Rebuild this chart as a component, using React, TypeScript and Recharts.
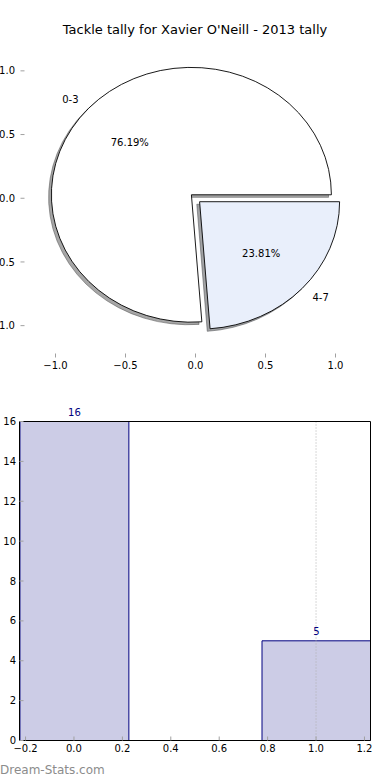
import React from 'react';
import {
  PieChart, Pie, ScatterChart, Scatter, XAxis, YAxis, ComposedChart, Bar, LabelList, ReferenceLine,
} from 'recharts';

// ---------- data ----------
const pieLabels = ['0-3', '4-7'];
const pieValues = [16, 5];
const pieColors = ['#ffffff', '#e9effb'];
const pieExplode = [0.04, 0.04];
const pieTicks = [-1, -0.5, 0, 0.5, 1];

const barCategories = [0, 1];
const barValues = [16, 5];
const barXTicks = [-0.2, 0, 0.2, 0.4, 0.6, 0.8, 1.0, 1.2];
const barYTicks = [0, 2, 4, 6, 8, 10, 12, 14, 16];
const BAR_WIDTH = 0.45;

const title = "Tackle tally for Xavier O'Neill - 2013 tally";
const watermark = 'Dream-Stats.com';

// ---------- layout ----------
const FONT = '"DejaVu Sans", Verdana, sans-serif';
const W = 390;
const TOP_H = 390;
const T = { left: 20.5, right: 370.5, top: 39, bottom: 357.5 };
const PIE_LIM = 1.25;
const RX = (T.right - T.left) / (2 * PIE_LIM);
const RY = (T.bottom - T.top) / (2 * PIE_LIM);
const CX = (T.left + T.right) / 2;
const CY = (T.top + T.bottom) / 2;
const SHADOW = 0.02;

const B_H = 390;
const B = { left: 19.5, right: 370.5, top: 31.5, bottom: 350.5 };
const BX_DOMAIN: [number, number] = [-0.225, 1.225];
const BAR_PX = (BAR_WIDTH * (B.right - B.left)) / (BX_DOMAIN[1] - BX_DOMAIN[0]);

const pieData = pieLabels.map((name, i) => ({ name, value: pieValues[i] }));
const barData = barCategories.map((x, i) => ({ x, count: barValues[i] }));
const emptyPoints: { x: number; y: number }[] = [];

const fmt1 = (v: number) => (v < 0 ? '\u2212' : '') + Math.abs(v).toFixed(1);
const tickStyle = { fontSize: 10, fill: '#000', fontFamily: FONT };
const TICK_GRAY = '#a0a0a0';

const RAD = Math.PI / 180;
function sectorPath(cx: number, cy: number, sa: number, ea: number) {
  const x1 = cx + RX * Math.cos(sa * RAD);
  const y1 = cy - RY * Math.sin(sa * RAD);
  const x2 = cx + RX * Math.cos(ea * RAD);
  const y2 = cy - RY * Math.sin(ea * RAD);
  const large = ea - sa > 180 ? 1 : 0;
  return `M${cx},${cy} L${x1},${y1} A${RX},${RY} 0 ${large} 0 ${x2},${y2} Z`;
}

function wedgeCenter(props: any) {
  const sa = props.startAngle;
  const ea = props.endAngle;
  const m = (sa + ea) / 2;
  const e = pieExplode[props.index] || 0;
  return {
    sa, ea, m,
    ccx: CX + e * RX * Math.cos(m * RAD),
    ccy: CY - e * RY * Math.sin(m * RAD),
  };
}

const renderShadow = (props: any) => {
  const { sa, ea, ccx, ccy } = wedgeCenter(props);
  const c = pieColors[props.index];
  const r = parseInt(c.slice(1, 3), 16) * 0.3;
  const g = parseInt(c.slice(3, 5), 16) * 0.3;
  const b = parseInt(c.slice(5, 7), 16) * 0.3;
  const col = `rgba(${r},${g},${b},0.5)`;
  return (
    <path
      key={`sh-${props.index}`}
      d={sectorPath(ccx - SHADOW * RX, ccy + SHADOW * RY, sa, ea)}
      fill={col}
      stroke={col}
      strokeWidth={1}
    />
  );
};

const renderWedge = (props: any) => {
  const { sa, ea, m, ccx, ccy } = wedgeCenter(props);
  const cosm = Math.cos(m * RAD);
  const sinm = Math.sin(m * RAD);
  const lx = ccx + 1.1 * RX * cosm;
  const ly = ccy - 1.1 * RY * sinm;
  const px = ccx + 0.6 * RX * cosm;
  const py = ccy - 0.6 * RY * sinm;
  return (
    <g key={`w-${props.index}`}>
      <path
        d={sectorPath(ccx, ccy, sa, ea)}
        fill={pieColors[props.index]}
        stroke="#000"
        strokeWidth={0.9}
        strokeLinejoin="miter"
      />
      <text x={lx} y={ly} textAnchor={cosm > 0 ? 'start' : 'end'} dominantBaseline="central"
        fontSize={10} fontFamily={FONT} fill="#000">{props.name}</text>
      <text x={px} y={py} textAnchor="middle" dominantBaseline="central"
        fontSize={10} fontFamily={FONT} fill="#000">{`${(props.percent * 100).toFixed(2)}%`}</text>
    </g>
  );
};

export default function App() {
  return (
    <div style={{ position: 'absolute', left: 0, top: 0, width: W, height: 780, background: '#fff', overflow: 'hidden' }}>
      {/* title */}
      <div style={{ position: 'absolute', left: 0, top: 21, width: W, textAlign: 'center', fontFamily: FONT, fontSize: 13, lineHeight: '18px', color: '#000' }}>
        {title}
      </div>

      {/* top axes (pie frame ticks) */}
      <div style={{ position: 'absolute', left: 0, top: 0 }}>
        <ScatterChart width={W} height={TOP_H} margin={{ top: 0, right: 0, bottom: 0, left: 0 }}>
          <XAxis xAxisId="b" orientation="bottom" type="number" dataKey="x" domain={[-PIE_LIM, PIE_LIM]} ticks={pieTicks}
            allowDataOverflow height={TOP_H - T.bottom} axisLine={false} tickLine={{ stroke: TICK_GRAY }} tickSize={-4} tickMargin={8}
            tick={tickStyle} tickFormatter={fmt1} interval={0} />
          <XAxis xAxisId="t" orientation="top" type="number" dataKey="x" domain={[-PIE_LIM, PIE_LIM]} ticks={pieTicks}
            allowDataOverflow height={T.top} axisLine={false} tickLine={{ stroke: TICK_GRAY }} tickSize={-4} tick={false} interval={0} />
          <YAxis yAxisId="l" orientation="left" type="number" dataKey="y" domain={[-PIE_LIM, PIE_LIM]} ticks={pieTicks}
            allowDataOverflow width={T.left} axisLine={false} tickLine={{ stroke: TICK_GRAY }} tickSize={-4} tickMargin={9.5}
            tick={tickStyle} tickFormatter={fmt1} interval={0} />
          <YAxis yAxisId="r" orientation="right" type="number" dataKey="y" domain={[-PIE_LIM, PIE_LIM]} ticks={pieTicks}
            allowDataOverflow width={W - T.right} axisLine={false} tickLine={{ stroke: TICK_GRAY }} tickSize={-4} tick={false} interval={0} />
          <Scatter data={emptyPoints} xAxisId="b" yAxisId="l" isAnimationActive={false} />
          <Scatter data={emptyPoints} xAxisId="t" yAxisId="r" isAnimationActive={false} />
        </ScatterChart>
      </div>

      {/* pie */}
      <div style={{ position: 'absolute', left: 0, top: 0, pointerEvents: 'none' }}>
        <PieChart width={W} height={TOP_H} margin={{ top: 0, right: 0, bottom: 0, left: 0 }}>
          <Pie data={pieData} dataKey="value" nameKey="name" cx={CX} cy={CY} outerRadius={RX}
            startAngle={0} endAngle={360} fill="none" stroke="none" labelLine={false}
            label={renderShadow} isAnimationActive={false} />
          <Pie data={pieData} dataKey="value" nameKey="name" cx={CX} cy={CY} outerRadius={RX}
            startAngle={0} endAngle={360} fill="none" stroke="none" labelLine={false}
            label={renderWedge} isAnimationActive={false} />
        </PieChart>
      </div>

      {/* bar chart */}
      <div style={{ position: 'absolute', left: 0, top: TOP_H }}>
        <ComposedChart width={W} height={B_H} data={barData} margin={{ top: 0, right: 0, bottom: 0, left: 0 }}>
          <XAxis xAxisId={0} orientation="bottom" type="number" dataKey="x" domain={BX_DOMAIN} allowDataOverflow
            ticks={barXTicks} height={B_H - B.bottom} axisLine={{ stroke: '#000' }} tickLine={{ stroke: TICK_GRAY }}
            tickSize={-4} tickMargin={8.5} tick={tickStyle} tickFormatter={fmt1} interval={0} />
          <XAxis xAxisId="top" orientation="top" type="number" dataKey="x" domain={BX_DOMAIN} allowDataOverflow
            ticks={barXTicks} height={B.top} axisLine={{ stroke: '#000' }} tickLine={{ stroke: TICK_GRAY }}
            tickSize={-4} tick={false} interval={0} />
          <YAxis yAxisId={0} orientation="left" type="number" domain={[0, 16]} ticks={barYTicks}
            width={B.left} axisLine={{ stroke: '#000' }} tickLine={{ stroke: TICK_GRAY }} tickSize={-4} tickMargin={7.5}
            tick={tickStyle} interval={0} />
          <YAxis yAxisId="r" orientation="right" type="number" domain={[0, 16]} ticks={barYTicks}
            width={W - B.right} axisLine={{ stroke: '#000' }} tickLine={{ stroke: TICK_GRAY }} tickSize={-4}
            tick={false} interval={0} />
          <Bar dataKey="count" xAxisId={0} yAxisId={0} barSize={BAR_PX} fill="#ccccE6" stroke="#000080"
            strokeWidth={1} isAnimationActive={false}>
            <LabelList dataKey="count" position="top" offset={6} fill="#000080" fontSize={10} fontFamily={FONT} />
          </Bar>
          <ReferenceLine x={1} xAxisId={0} yAxisId={0} stroke="#b0b0b0" strokeDasharray="1 2" />
        </ComposedChart>
      </div>

      {/* watermark */}
      <div style={{ position: 'absolute', left: 0, top: 762, fontFamily: FONT, fontSize: 12, lineHeight: '16px', color: '#8c8c8c' }}>
        {watermark}
      </div>
    </div>
  );
}
